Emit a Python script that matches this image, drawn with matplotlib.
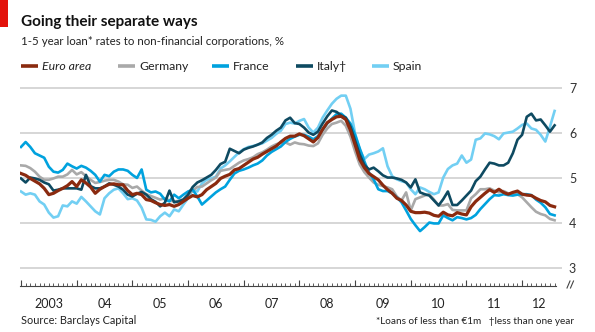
import numpy as np
import matplotlib
matplotlib.use("Agg")
import matplotlib.pyplot as plt
from matplotlib.lines import Line2D
from matplotlib.patches import Rectangle

plt.rcParams['font.family'] = ['Lato', 'DejaVu Sans']

# monthly values, Jan 2003 - Aug 2012
euro_area = [5.10, 5.06, 4.99, 4.93, 4.87, 4.77, 4.63, 4.66, 4.72, 4.77, 4.83, 4.92,
             4.81, 4.96, 4.89, 4.80, 4.66, 4.75, 4.81, 4.86, 4.87, 4.85, 4.85, 4.72,
             4.63, 4.66, 4.63, 4.52, 4.50, 4.45, 4.41, 4.39, 4.41, 4.37, 4.41, 4.48,
             4.55, 4.61, 4.58, 4.63, 4.74, 4.81, 4.88, 4.99, 5.04, 5.08, 5.18, 5.21,
             5.28, 5.35, 5.42, 5.46, 5.53, 5.59, 5.65, 5.71, 5.80, 5.88, 5.93, 5.93,
             5.98, 5.94, 5.87, 5.80, 5.90, 6.08, 6.23, 6.30, 6.36, 6.37, 6.30, 6.06,
             5.74, 5.41, 5.23, 5.10, 5.03, 4.96, 4.84, 4.74, 4.66, 4.55, 4.50, 4.40,
             4.26, 4.23, 4.23, 4.24, 4.22, 4.17, 4.15, 4.24, 4.18, 4.16, 4.23, 4.20,
             4.18, 4.36, 4.48, 4.57, 4.66, 4.74, 4.68, 4.75, 4.68, 4.64, 4.68, 4.71,
             4.64, 4.62, 4.61, 4.55, 4.50, 4.47, 4.39, 4.36]
germany = [5.28, 5.27, 5.22, 5.14, 5.03, 4.96, 4.96, 4.99, 5.03, 5.03, 5.08, 5.18,
           5.08, 5.13, 5.04, 4.96, 4.89, 4.91, 4.94, 4.96, 4.96, 4.92, 4.86, 4.85,
           4.78, 4.81, 4.72, 4.64, 4.60, 4.56, 4.52, 4.55, 4.50, 4.48, 4.49, 4.53,
           4.62, 4.72, 4.80, 4.81, 4.88, 4.95, 5.01, 5.16, 5.18, 5.20, 5.27, 5.34,
           5.39, 5.42, 5.46, 5.53, 5.57, 5.63, 5.70, 5.75, 5.78, 5.79, 5.74, 5.79,
           5.76, 5.75, 5.72, 5.71, 5.77, 5.96, 6.10, 6.20, 6.23, 6.27, 6.16, 5.92,
           5.59, 5.30, 5.13, 5.01, 4.90, 4.85, 4.82, 4.79, 4.75, 4.59, 4.50, 4.68,
           4.28, 4.53, 4.57, 4.61, 4.64, 4.52, 4.39, 4.39, 4.42, 4.29, 4.28, 4.28,
           4.28, 4.55, 4.64, 4.75, 4.75, 4.77, 4.72, 4.68, 4.71, 4.66, 4.64, 4.64,
           4.57, 4.46, 4.35, 4.25, 4.20, 4.17, 4.09, 4.06]
france = [5.69, 5.80, 5.69, 5.55, 5.50, 5.45, 5.25, 5.14, 5.12, 5.18, 5.32, 5.26,
          5.21, 5.27, 5.23, 5.16, 5.07, 4.92, 5.07, 5.04, 5.14, 5.19, 5.19, 5.16,
          5.07, 5.00, 5.19, 4.74, 4.68, 4.70, 4.65, 4.52, 4.48, 4.63, 4.55, 4.63,
          4.70, 4.74, 4.59, 4.41, 4.50, 4.59, 4.68, 4.75, 4.81, 4.96, 5.10, 5.16,
          5.19, 5.23, 5.28, 5.32, 5.39, 5.50, 5.58, 5.64, 5.70, 5.80, 5.87, 5.92,
          5.96, 5.96, 5.92, 5.86, 5.93, 6.07, 6.21, 6.32, 6.42, 6.43, 6.34, 6.21,
          5.96, 5.66, 5.37, 5.12, 4.97, 4.75, 4.71, 4.71, 4.66, 4.57, 4.46, 4.28,
          4.09, 3.95, 3.82, 3.91, 4.01, 3.99, 3.99, 4.17, 4.11, 4.06, 4.13, 4.11,
          4.08, 4.11, 4.18, 4.31, 4.42, 4.53, 4.62, 4.61, 4.64, 4.62, 4.61, 4.63,
          4.64, 4.64, 4.62, 4.52, 4.45, 4.35, 4.20, 4.17]
italy = [4.99, 4.90, 5.01, 4.99, 4.96, 4.90, 4.86, 4.72, 4.74, 4.77, 4.77, 4.77,
         4.77, 4.74, 5.07, 4.82, 4.77, 4.77, 4.81, 4.88, 4.85, 4.81, 4.74, 4.63,
         4.59, 4.65, 4.69, 4.63, 4.53, 4.47, 4.37, 4.45, 4.72, 4.46, 4.48, 4.52,
         4.63, 4.80, 4.90, 4.95, 5.01, 5.07, 5.18, 5.31, 5.36, 5.65, 5.60, 5.55,
         5.63, 5.67, 5.70, 5.74, 5.79, 5.89, 5.96, 6.05, 6.12, 6.28, 6.34, 6.22,
         6.20, 6.12, 6.01, 5.96, 6.03, 6.21, 6.37, 6.50, 6.47, 6.39, 6.34, 6.14,
         5.83, 5.52, 5.29, 5.19, 5.23, 5.15, 5.06, 5.01, 5.01, 4.99, 4.96, 4.90,
         4.79, 4.97, 4.68, 4.64, 4.61, 4.50, 4.39, 4.53, 4.70, 4.40, 4.40, 4.50,
         4.61, 4.72, 4.93, 5.03, 5.19, 5.34, 5.32, 5.28, 5.28, 5.34, 5.55, 5.85,
         5.96, 6.36, 6.43, 6.28, 6.30, 6.17, 6.03, 6.17]
spain = [4.70, 4.63, 4.66, 4.63, 4.48, 4.41, 4.23, 4.12, 4.15, 4.39, 4.37, 4.48,
         4.43, 4.58, 4.48, 4.37, 4.26, 4.19, 4.55, 4.66, 4.74, 4.77, 4.66, 4.53,
         4.55, 4.50, 4.34, 4.08, 4.07, 4.03, 4.15, 4.23, 4.15, 4.30, 4.26, 4.41,
         4.55, 4.74, 4.70, 4.88, 4.96, 4.99, 5.03, 5.21, 5.28, 5.37, 5.47, 5.57,
         5.64, 5.69, 5.71, 5.74, 5.77, 5.83, 5.89, 5.98, 6.05, 6.20, 6.23, 6.21,
         6.27, 6.31, 6.12, 6.01, 6.12, 6.34, 6.50, 6.65, 6.76, 6.83, 6.83, 6.54,
         5.99, 5.63, 5.42, 5.52, 5.55, 5.59, 5.66, 5.26, 5.04, 4.97, 4.93, 4.90,
         4.75, 4.64, 4.79, 4.75, 4.69, 4.64, 4.68, 5.01, 5.20, 5.28, 5.32, 5.50,
         5.34, 5.41, 5.85, 5.88, 5.99, 5.97, 5.93, 5.86, 5.99, 6.01, 6.03, 6.10,
         6.18, 6.21, 6.10, 6.07, 5.96, 5.81, 6.14, 6.49]

series = [("Euro area", euro_area, "#8a2a0f"),
          ("Germany", germany, "#a9a9a9"),
          ("France", france, "#00a2de"),
          ("Italy\u2020", italy, "#0e4a61"),
          ("Spain", spain, "#72cff3")]
years = ["2003", "04", "05", "06", "07", "08", "09", "10", "11", "12"]
yticks = [3, 4, 5, 6, 7]

W, H = 595, 332
def fx(p): return p / W
def fy(p): return 1 - p / H

fig = plt.figure(figsize=(W / 100, H / 100), dpi=100, facecolor="white")
ax = fig.add_axes([fx(20), fy(286), (562 - 20) / W, (286 - 85) / H])

months = np.arange(len(euro_area))
# draw order: euro area on top
for name, vals, col in [series[4], series[1], series[2], series[3], series[0]]:
    lw = 2.3 if name == "Euro area" else 1.9
    ax.plot(months, vals, color=col, lw=lw, solid_joinstyle="round", zorder=3)

ax.set_ylim(2.6, 3 + (268 - 85) / 45)
ax.set_xlim((20 - 21) / 4.64, (562 - 21) / 4.64)

for v in yticks:
    ax.axhline(v, color="#cfcfcf", lw=1.2, zorder=1)

ax.yaxis.tick_right()
ax.set_yticks(yticks)
ax.tick_params(axis="y", length=0, pad=5, labelsize=9, labelcolor="#333333")
for sp in ["top", "left", "right"]:
    ax.spines[sp].set_visible(False)
last = (556 - 21) / 4.64
ax.spines["bottom"].set_bounds(-0.2, last)
ax.spines["bottom"].set_color("#444444")
ax.spines["bottom"].set_linewidth(0.8)
ax.set_xticks(np.arange(0, 115, 12))
ax.set_xticks(np.arange(0, int(last) + 1), minor=True)
ax.tick_params(axis="x", which="major", direction="in", length=4.5, width=0.8,
               color="#444444", labelbottom=False)
ax.tick_params(axis="x", which="minor", direction="in", length=2.2, width=0.6,
               color="#444444")

# year labels, centred on visible part of each year
for i, lab in enumerate(years):
    a = i * 12
    b = min(a + 12, last)
    ax.text((a + b) / 2, -0.06, lab, transform=ax.get_xaxis_transform(),
            ha="center", va="top", fontsize=9, color="#222222")

# axis break mark
for dx in (0, 3.5):
    fig.add_artist(Line2D([fx(567 + dx), fx(570 + dx)], [fy(288), fy(281)],
                          color="#444444", lw=0.8))

# red tag
fig.add_artist(Rectangle((0, fy(27)), fx(8), 27 / H, color="#e3120b", lw=0))

fig.text(fx(21), fy(26), "Going their separate ways", fontsize=11,
         fontweight="bold", color="#111111", va="baseline")
fig.text(fx(21), fy(45), "1-5 year loan* rates to non-financial corporations, %",
         fontsize=8.3, color="#222222", va="baseline")

# legend
leg_x = [21, 118, 212, 296, 372]
for (name, vals, col), x0 in zip(series, leg_x):
    fig.add_artist(Line2D([fx(x0), fx(x0 + 17)], [fy(66), fy(66)], color=col, lw=2.6,
                          solid_capstyle="butt"))
    fig.text(fx(x0 + 21), fy(66), name, fontsize=8.8, color="#222222", va="center",
             style="italic" if name == "Euro area" else "normal")

fig.text(fx(21), fy(324), "Source: Barclays Capital", fontsize=7.8, color="#222222",
         va="baseline")
fig.text(fx(574), fy(324), "*Loans of less than \u20ac1m   \u2020less than one year",
         fontsize=7.2, color="#222222", va="baseline", ha="right")

fig.savefig("out.png", dpi=100, facecolor="white")
